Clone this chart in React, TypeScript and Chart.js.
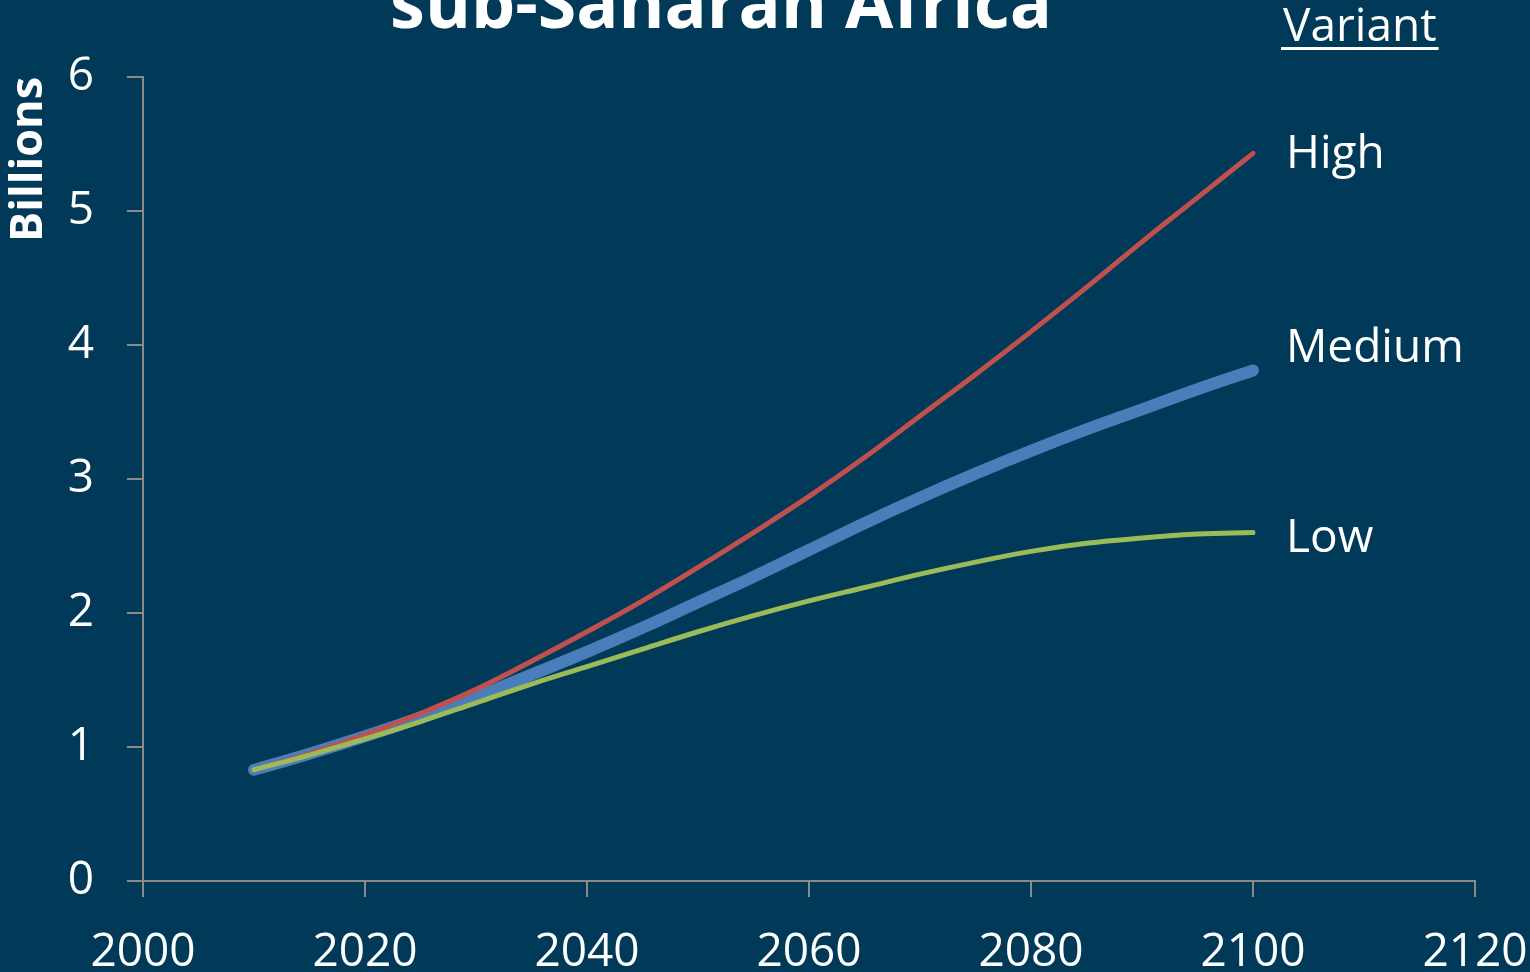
import React, { useEffect, useRef } from "react";
import { Chart, registerables } from "chart.js";

Chart.register(...registerables);

const years = [2010, 2015, 2020, 2025, 2030, 2035, 2040, 2045, 2050, 2055, 2060, 2065, 2070, 2075, 2080, 2085, 2090, 2095, 2100];
const highValues = [0.83, 0.95, 1.09, 1.25, 1.43, 1.64, 1.86, 2.09, 2.34, 2.6, 2.87, 3.16, 3.47, 3.78, 4.1, 4.43, 4.77, 5.1, 5.43];
const mediumValues = [0.83, 0.95, 1.08, 1.22, 1.37, 1.54, 1.71, 1.89, 2.08, 2.27, 2.47, 2.67, 2.86, 3.04, 3.21, 3.37, 3.52, 3.67, 3.81];
const lowValues = [0.83, 0.94, 1.06, 1.19, 1.33, 1.47, 1.6, 1.73, 1.86, 1.98, 2.09, 2.19, 2.29, 2.38, 2.46, 2.52, 2.56, 2.59, 2.6];
const seriesNames = ["High", "Medium", "Low"];
const titleText = "sub-Saharan Africa";
const legendTitle = "Variant";

const BG = "#013959";
const AXIS = "#8a8a8a";
const FONT = "'Open Sans', sans-serif";

const toPoints = (vals: number[]) => vals.map((v, i) => ({ x: years[i], y: v }));

const labelOffsets: Record<string, number> = { High: 15, Medium: -8, Low: 19 };

const textPlugin = {
  id: "textPlugin",
  beforeDraw(chart: any) {
    const ctx = chart.ctx;
    ctx.save();
    ctx.fillStyle = BG;
    ctx.fillRect(0, 0, chart.width, chart.height);
    ctx.restore();
  },
  afterDatasetsDraw(chart: any) {
    const ctx = chart.ctx;
    ctx.save();
    ctx.fillStyle = "#ffffff";
    ctx.textBaseline = "alphabetic";
    // title
    ctx.font = `bold 70px ${FONT}`;
    ctx.textAlign = "center";
    ctx.fillText(titleText, 721, 28);
    // legend title
    ctx.font = `46px ${FONT}`;
    ctx.textAlign = "left";
    ctx.fillText(legendTitle, 1283, 41);
    const w = ctx.measureText(legendTitle).width;
    ctx.fillRect(1281, 47, w + 4, 3);
    // series end labels
    chart.data.datasets.forEach((ds: any, i: number) => {
      const meta = chart.getDatasetMeta(i);
      const last = meta.data[meta.data.length - 1];
      if (!last) return;
      ctx.fillText(ds.label, last.x + 33, last.y + (labelOffsets[ds.label] || 0));
    });
    ctx.restore();
  },
};

export default function App() {
  const ref = useRef<HTMLCanvasElement>(null);
  useEffect(() => {
    if (!ref.current) return;
    const chart = new Chart(ref.current, {
      type: "line",
      data: {
        datasets: [
          {
            label: seriesNames[0],
            data: toPoints(highValues),
            borderColor: "#c0504d",
            borderWidth: 5,
            order: 2,
          },
          {
            label: seriesNames[1],
            data: toPoints(mediumValues),
            borderColor: "#4a7ebb",
            borderWidth: 12,
            order: 3,
          },
          {
            label: seriesNames[2],
            data: toPoints(lowValues),
            borderColor: "#9bbb59",
            borderWidth: 5,
            order: 1,
          },
        ].map((d) => ({
          ...d,
          pointRadius: 0,
          fill: false,
          tension: 0.4,
          borderCapStyle: "round" as const,
          borderJoinStyle: "round" as const,
        })),
      },
      options: {
        animation: false,
        responsive: false,
        maintainAspectRatio: false,
        layout: { padding: { top: 77, right: 55, left: 0, bottom: 0 } },
        plugins: {
          legend: { display: false },
          tooltip: { enabled: false },
          title: { display: false },
        },
        scales: {
          x: {
            type: "linear",
            min: 2000,
            max: 2120,
            ticks: {
              stepSize: 20,
              color: "#ffffff",
              font: { family: FONT, size: 46 },
              padding: 28,
              maxRotation: 0,
              callback: (v: any) => String(v),
            },
            grid: {
              drawOnChartArea: false,
              drawTicks: true,
              tickLength: 16,
              color: AXIS,
              lineWidth: 2,
            },
            border: { display: true, color: AXIS, width: 2 },
            afterFit: (s: any) => {
              s.height = 91;
              s.paddingLeft = 0;
              s.paddingRight = 0;
            },
          },
          y: {
            min: 0,
            max: 6,
            ticks: {
              stepSize: 1,
              color: "#ffffff",
              font: { family: FONT, size: 46 },
              padding: 33,
            },
            grid: {
              drawOnChartArea: false,
              drawTicks: true,
              tickLength: 16,
              color: AXIS,
              lineWidth: 2,
            },
            border: { display: true, color: AXIS, width: 2 },
            title: {
              display: true,
              text: "Billions",
              color: "#ffffff",
              align: "end",
              font: { family: FONT, size: 45, weight: "bold" },
              padding: { top: 2, bottom: 0 },
            },
            afterFit: (s: any) => {
              s.width = 143;
              s.paddingTop = 0;
              s.paddingBottom = 0;
            },
          },
        },
      },
      plugins: [textPlugin],
    });
    return () => chart.destroy();
  }, []);
  return (
    <div style={{ position: "fixed", left: 0, top: 0, width: 1530, height: 972, background: BG }}>
      <canvas ref={ref} width={1530} height={972} style={{ display: "block", width: 1530, height: 972 }} />
    </div>
  );
}
